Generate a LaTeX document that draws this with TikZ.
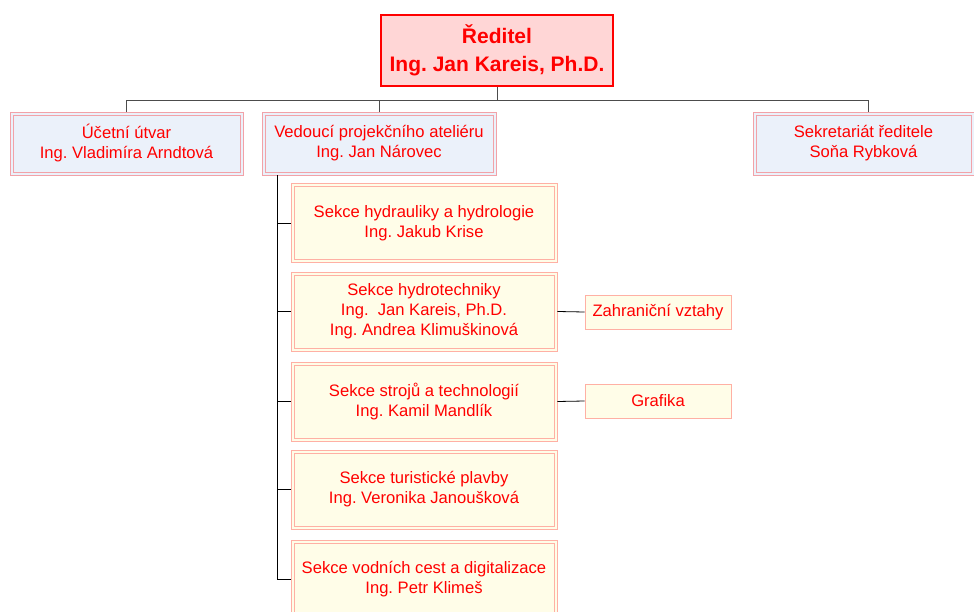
\documentclass[tikz,border=0pt]{standalone}
\usepackage{fontspec}
\setmainfont{Liberation Sans}
\usepackage{xcolor}
\definecolor{orgred}{HTML}{FF0000}
\definecolor{topfill}{HTML}{FFD6D6}
\definecolor{bluefill}{HTML}{EBF1FA}
\definecolor{blueline}{HTML}{F2A2A8}
\definecolor{yelfill}{HTML}{FFFDE8}
\definecolor{yelline}{HTML}{FFB0A4}
\usetikzlibrary{positioning}
\frenchspacing

\begin{document}
\begin{tikzpicture}[x=1pt,y=-1pt,semithick]
              \tikzstyle{every node}=[align=center,inner sep=0pt,text=orgred,font=\fontsize{16.6}{20}\selectfont]
              \tikzstyle{boss}=[draw=orgred,fill=topfill,line width=2.5pt,minimum width=232pt,minimum height=71pt,font=\fontsize{21}{28}\selectfont\bfseries]
              \tikzstyle{inner}=[path picture={\draw[line width=0.8pt,draw=#1]
                  ([shift={(3pt,-3pt)}]path picture bounding box.north west) rectangle
                  ([shift={(-3pt,3pt)}]path picture bounding box.south east);}]
              \tikzstyle{head}=[draw=blueline,line width=0.8pt,fill=bluefill,inner=blueline,minimum height=63pt]
              \tikzstyle{sect}=[draw=yelline,line width=0.8pt,fill=yelfill,inner=yelline,minimum width=266pt,minimum height=79pt]
              \tikzstyle{side}=[draw=yelline,line width=0.8pt,fill=yelfill,minimum width=146pt,minimum height=34pt]
              \tikzstyle{e}=[draw=black!70,line width=0.8pt]

              \useasboundingbox (0,0) rectangle (974,612);

              \node[boss]                      (R)  at (497,50.5)  {Ředitel\\Ing. Jan Kareis, Ph.D.};
              \node[head,minimum width=233pt]  (U)  at (126.5,143.5) {Účetní útvar\\Ing. Vladimíra Arndtová};
              \node[head,minimum width=234pt]  (V)  at (379,143.5) {Vedoucí projekčního ateliéru\\Ing. Jan Nárovec};
              \node[head,minimum width=221pt]  (S)  at (863.5,143.5) {Sekretariát ředitele\\Soňa Rybková};

              \node[sect]  (S1) at (424,223)   {Sekce hydrauliky a hydrologie\\Ing. Jakub Krise};
              \node[sect]  (S2) at (424,311.5) {Sekce hydrotechniky\\Ing.~~Jan Kareis, Ph.D.\\Ing. Andrea Klimuškinová};
              \node[sect]  (S3) at (424,401.5) {Sekce strojů a technologií\\Ing. Kamil Mandlík};
              \node[sect]  (S4) at (424,489.5) {Sekce turistické plavby\\Ing. Veronika Janoušková};
              \node[sect]  (S5) at (424,579.5) {Sekce vodních cest a digitalizace\\Ing. Petr Klimeš};

              \node[side]  (Z)  at (658,312)   {Zahraniční vztahy};
              \node[side]  (G)  at (658,401)   {Grafika};

              \coordinate (top)   at (497,100);
              \coordinate (trunk) at (277,579.5);

              \draw[e] (R.south) -- (top);
              \draw[e] (top) -| (U.north);
              \draw[e] (top) -| (V.north);
              \draw[e] (top) -| ([xshift=4.5pt]S.north);

              \draw[e,black] (V.south -| trunk) -- (trunk);
              \foreach \s in {S1,S2,S3,S4,S5}
                \draw[e,black] (\s.west -| trunk) -- (\s.west);
              \draw[e,black] (S2.east) -- (Z.west);
              \draw[e,black] (S3.east) -- (G.west);

       \end{tikzpicture}
\end{document}
